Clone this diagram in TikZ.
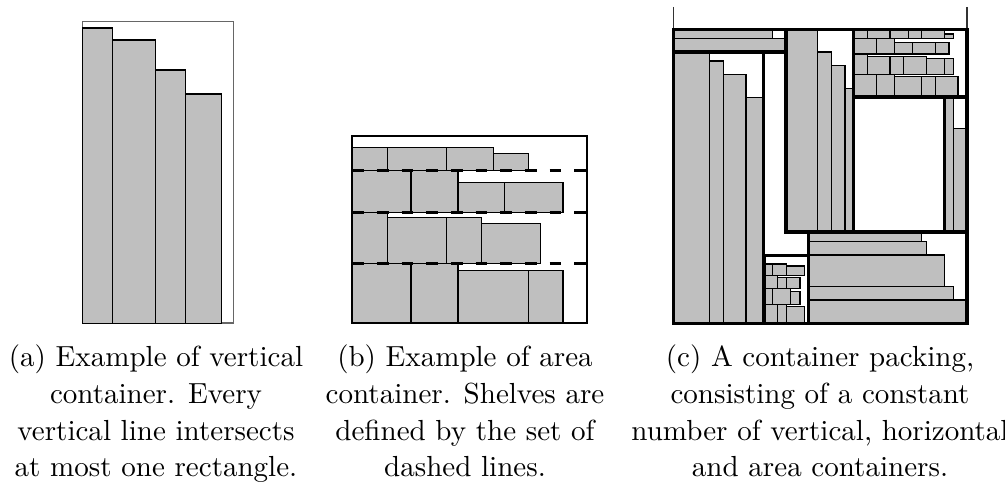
\documentclass[tikz,border=0pt]{standalone}
\usepackage{tikz}
\usetikzlibrary{positioning}

\begin{document}
\begin{tikzpicture}[
    x=0.377pt, y=-0.377pt,
    item/.style={draw=black, fill=lightgray, line width=0.5pt},
    cont/.style={draw=black, line width=1.2pt},
    frame/.style={draw=black!60, line width=0.6pt},
    shelf/.style={draw=black, line width=1.2pt, dash pattern=on 4.4pt off 4.9pt},
    subcap/.style={align=center, inner sep=0pt, anchor=base,
        font=\fontsize{10.95}{13.9}\selectfont}
]
\useasboundingbox (0,0) rectangle (1005,489);

% (a) vertical container
\draw[frame] (82.3,21.5) rectangle (233.3,323.3);
\draw[item] (82.3,28) rectangle (112.7,323.3);
\draw[item] (112.7,40) rectangle (155.3,323.3);
\draw[item] (155.3,70) rectangle (185.3,323.3);
\draw[item] (185.3,94) rectangle (221.7,323.3);

% (b) area container with shelves
\draw[item] (352.3,147.3) rectangle (387.7,170.7);
\draw[item] (387.7,147.3) rectangle (446.7,170.7);
\draw[item] (446.7,147.3) rectangle (493.7,170.7);
\draw[item] (493.7,153.7) rectangle (528.7,170.7);
\draw[item] (352.3,170.7) rectangle (411,212.3);
\draw[item] (411,170.7) rectangle (458,212.3);
\draw[item] (458,182.7) rectangle (504.7,212.3);
\draw[item] (504.7,182.7) rectangle (563,212.3);
\draw[item] (352.3,212.3) rectangle (387.7,263.7);
\draw[item] (387.7,217.7) rectangle (446.7,263.7);
\draw[item] (446.7,217.7) rectangle (481.7,263.7);
\draw[item] (481.7,223.7) rectangle (540.3,263.7);
\draw[item] (352.3,263.7) rectangle (411,323.3);
\draw[item] (411,263.7) rectangle (458,323.3);
\draw[item] (458,270.3) rectangle (528.7,323.3);
\draw[item] (528.7,270.3) rectangle (563,323.3);
\draw[shelf] (352.3,170.7) -- (586.7,170.7);
\draw[shelf] (352.3,212.3) -- (586.7,212.3);
\draw[shelf] (352.3,263.7) -- (586.7,263.7);
\draw[draw=black, line width=0.8pt] (352.3,135.7) rectangle (586.7,323.3);

% (c) container packing
\draw[frame, draw=black!80] (673.5,7) -- (673.5,29.3);
\draw[frame, draw=black!80] (967,7) -- (967,29.3);
% horizontal, top left
\draw[item] (673.5,29.3) rectangle (772.7,38.7);
\draw[item] (673.5,38.7) rectangle (786,52);
% vertical, left
\draw[item] (673.5,52) rectangle (709.7,323.3);
\draw[item] (709.7,61) rectangle (723.3,323.3);
\draw[item] (723.3,74.7) rectangle (746,323.3);
\draw[item] (746,97.3) rectangle (762.3,323.3);
% vertical, middle
\draw[item] (786,29.3) rectangle (817.7,232);
\draw[item] (817.7,52) rectangle (831.7,232);
\draw[item] (831.7,65.3) rectangle (845,232);
\draw[item] (845,88.3) rectangle (853.7,232);
% area, top right
\draw[item] (853.7,29.3) rectangle (867.7,38.3);
\draw[item] (867.7,29.3) rectangle (890,38.3);
\draw[item] (890,29.3) rectangle (908.3,38.3);
\draw[item] (908.3,29.3) rectangle (921.7,38.3);
\draw[item] (921.7,29.3) rectangle (944.3,38.3);
\draw[item] (944.3,34) rectangle (953.3,38.3);
\draw[item] (853.7,38.3) rectangle (876.7,54);
\draw[item] (876.7,38.3) rectangle (894.7,54);
\draw[item] (894.7,42.7) rectangle (912.7,54);
\draw[item] (912.7,42.7) rectangle (935.3,54);
\draw[item] (935.3,42.7) rectangle (949,54);
\draw[item] (853.7,54) rectangle (867.7,74.3);
\draw[item] (867.7,56.7) rectangle (890,74.3);
\draw[item] (890,56.7) rectangle (903.7,74.3);
\draw[item] (903.7,56.7) rectangle (926.3,74.3);
\draw[item] (926.3,58.7) rectangle (944.3,74.3);
\draw[item] (944.3,58.7) rectangle (953.3,74.3);
\draw[item] (853.7,74.3) rectangle (876.7,97);
\draw[item] (876.7,74.3) rectangle (894.7,97);
\draw[item] (894.7,76.7) rectangle (921.7,97);
\draw[item] (921.7,76.7) rectangle (935.3,97);
\draw[item] (935.3,76.7) rectangle (958,97);
% vertical, right
\draw[item] (944.3,97) rectangle (953.3,232);
\draw[item] (953.3,128.3) rectangle (967,232);
% horizontal, bottom right
\draw[item] (808.5,233.3) rectangle (921.7,241.7);
\draw[item] (808.5,241.7) rectangle (926.7,255);
\draw[item] (808.5,255) rectangle (944.3,286.7);
\draw[item] (808.5,286.7) rectangle (953.3,300);
\draw[item] (808.5,300) rectangle (967,323.3);
% area, bottom
\draw[item] (764,264) rectangle (772.7,275.3);
\draw[item] (772.7,264) rectangle (786.7,275.3);
\draw[item] (786.7,266) rectangle (804.3,275.3);
\draw[item] (764,275.3) rectangle (777.7,288.7);
\draw[item] (777.7,277.7) rectangle (786.7,288.7);
\draw[item] (786.7,277.7) rectangle (800,288.7);
\draw[item] (764,288.7) rectangle (772.7,304.3);
\draw[item] (772.7,288.7) rectangle (790.7,304.3);
\draw[item] (790.7,291.3) rectangle (800,304.3);
\draw[item] (764,304.3) rectangle (777.7,323.3);
\draw[item] (777.7,304.3) rectangle (786.7,323.3);
\draw[item] (786.7,306.7) rectangle (804.3,323.3);
% container borders
\draw[cont] (673.5,29.3) rectangle (786,52);
\draw[cont] (673.5,52) rectangle (763.7,323.3);
\draw[cont] (786,29.3) rectangle (853.7,232);
\draw[cont] (853.7,29.3) rectangle (967,97);
\draw[cont] (944.3,97) rectangle (967,232);
\draw[cont] (808.5,232) rectangle (967,323.3);
\draw[cont] (764,255.5) rectangle (808.5,323.3);
\draw[cont] (673.5,29.3) rectangle (967,323.3);

% captions
\node[subcap] (capa) at (156,477) {(a) Example of vertical\\container. Every\\vertical line intersects\\at most one rectangle.};
\node[subcap] (capb) at (465,477) {(b) Example of area\\container. Shelves are\\defined by the set of\\dashed lines.};
\node[subcap] (capc) at (820,477) {(c) A container packing,\\consisting of a constant\\number of vertical, horizontal\\and area containers.};
\end{tikzpicture}
\end{document}
